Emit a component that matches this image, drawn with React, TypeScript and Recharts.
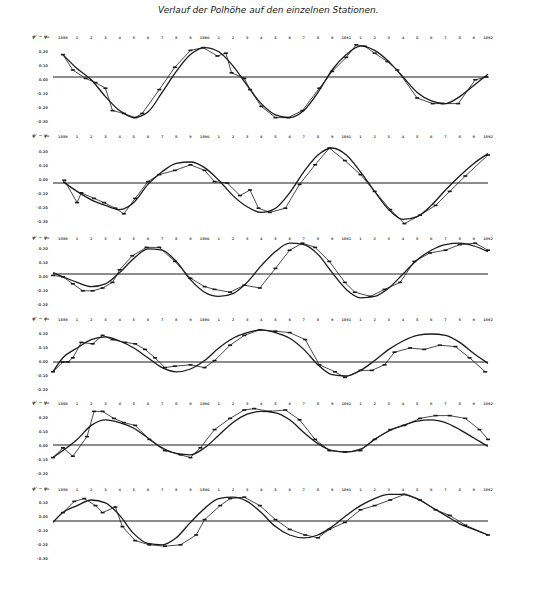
import React from "react";
import { LineChart, Line, XAxis, YAxis, ReferenceLine } from "recharts";

const TITLE = "Verlauf der Polhöhe auf den einzelnen Stationen.";
const AXIS_NAME = "φ' − φ₀";

// epochs (years) along the top of each panel, one tick per tenth of a year
const YEAR_TICKS = [
  1889.0, 1889.1, 1889.2, 1889.3, 1889.4, 1889.5, 1889.6, 1889.7, 1889.8, 1889.9,
  1890.0, 1890.1, 1890.2, 1890.3, 1890.4, 1890.5, 1890.6, 1890.7, 1890.8, 1890.9,
  1891.0, 1891.1, 1891.2, 1891.3, 1891.4, 1891.5, 1891.6, 1891.7, 1891.8, 1891.9,
  1892.0,
];

// epochs for the smooth (computed) curves
const SMOOTH_EPOCHS = [
  1888.93, 1889.0, 1889.1, 1889.2, 1889.3, 1889.4, 1889.5, 1889.6, 1889.7, 1889.8,
  1889.9, 1890.0, 1890.1, 1890.2, 1890.3, 1890.4, 1890.5, 1890.6, 1890.7, 1890.8,
  1890.9, 1891.0, 1891.1, 1891.2, 1891.3, 1891.4, 1891.5, 1891.6, 1891.7, 1891.8,
  1891.9, 1892.0,
];

// smooth curves, seconds of arc relative to the mean line
const SMOOTH_1 = [null, 0.16, 0.06, -0.02, -0.14, -0.24, -0.29, -0.25, -0.11, 0.04, 0.16, 0.21, 0.18, 0.08, -0.06, -0.19, -0.27, -0.29, -0.24, -0.11, 0.05, 0.16, 0.22, 0.19, 0.11, 0.0, -0.11, -0.17, -0.19, -0.14, -0.06, 0.02];
const SMOOTH_2 = [null, 0.01, -0.06, -0.12, -0.16, -0.19, -0.14, -0.01, 0.08, 0.14, 0.15, 0.11, 0.02, -0.09, -0.17, -0.21, -0.18, -0.07, 0.08, 0.2, 0.25, 0.2, 0.08, -0.06, -0.19, -0.26, -0.24, -0.16, -0.05, 0.05, 0.14, 0.21];
const SMOOTH_3 = [0.01, -0.02, -0.06, -0.09, -0.07, 0.01, 0.11, 0.18, 0.17, 0.09, -0.04, -0.13, -0.16, -0.14, -0.06, 0.06, 0.16, 0.22, 0.21, 0.14, 0.01, -0.11, -0.17, -0.16, -0.1, 0.0, 0.1, 0.17, 0.21, 0.22, 0.2, 0.16];
const SMOOTH_4 = [-0.07, 0.03, 0.1, 0.16, 0.18, 0.15, 0.1, 0.03, -0.04, -0.07, -0.05, 0.01, 0.1, 0.17, 0.21, 0.23, 0.21, 0.17, 0.09, -0.02, -0.09, -0.1, -0.06, 0.01, 0.09, 0.15, 0.19, 0.2, 0.19, 0.14, 0.06, -0.01];
const SMOOTH_5 = [-0.09, -0.04, 0.04, 0.14, 0.18, 0.16, 0.12, 0.05, -0.02, -0.06, -0.07, -0.02, 0.07, 0.16, 0.22, 0.24, 0.23, 0.18, 0.09, 0.01, -0.04, -0.05, -0.03, 0.04, 0.1, 0.14, 0.17, 0.18, 0.16, 0.11, 0.05, -0.01];
const SMOOTH_6 = [-0.01, 0.06, 0.11, 0.15, 0.13, 0.04, -0.09, -0.16, -0.17, -0.12, -0.01, 0.09, 0.16, 0.17, 0.14, 0.06, -0.04, -0.1, -0.12, -0.1, -0.04, 0.04, 0.11, 0.16, 0.19, 0.19, 0.16, 0.1, 0.04, -0.02, -0.06, -0.1];

// observed values [epoch, seconds of arc]
const OBS_1 = [
  [1889.0, 0.16], [1889.07, 0.05], [1889.16, -0.01], [1889.23, -0.04], [1889.3, -0.08],
  [1889.35, -0.24], [1889.43, -0.26], [1889.51, -0.29], [1889.56, -0.26], [1889.68, -0.09],
  [1889.79, 0.07], [1889.9, 0.19], [1889.99, 0.21], [1890.09, 0.15], [1890.15, 0.17],
  [1890.19, 0.03], [1890.28, -0.01], [1890.32, -0.09], [1890.4, -0.21], [1890.5, -0.29],
  [1890.59, -0.29], [1890.69, -0.24], [1890.81, -0.08], [1890.9, 0.04], [1891.0, 0.14],
  [1891.07, 0.23], [1891.13, 0.22], [1891.2, 0.17], [1891.29, 0.11], [1891.36, 0.05],
  [1891.5, -0.15], [1891.61, -0.19], [1891.68, -0.19], [1891.79, -0.19], [1891.91, -0.02],
  [1891.99, 0.0],
];
const OBS_2 = [
  [1889.01, 0.02], [1889.1, -0.14], [1889.13, -0.07], [1889.22, -0.11], [1889.29, -0.14],
  [1889.37, -0.18], [1889.43, -0.22], [1889.51, -0.11], [1889.6, 0.01], [1889.68, 0.06],
  [1889.79, 0.09], [1889.9, 0.13], [1890.0, 0.09], [1890.07, 0.01], [1890.16, 0.0],
  [1890.25, -0.09], [1890.32, -0.05], [1890.38, -0.18], [1890.46, -0.21], [1890.57, -0.18],
  [1890.67, -0.01], [1890.78, 0.13], [1890.88, 0.25], [1890.99, 0.16], [1891.1, 0.06],
  [1891.2, -0.06], [1891.31, -0.19], [1891.41, -0.29], [1891.52, -0.23], [1891.63, -0.16],
  [1891.73, -0.06], [1891.84, 0.05], [1892.0, 0.2],
];
const OBS_3 = [
  [1888.93, -0.01], [1889.0, -0.02], [1889.07, -0.07], [1889.14, -0.12], [1889.21, -0.12],
  [1889.28, -0.1], [1889.35, -0.06], [1889.4, 0.03], [1889.49, 0.13], [1889.59, 0.19],
  [1889.68, 0.19], [1889.79, 0.09], [1889.9, -0.03], [1890.0, -0.09], [1890.07, -0.11],
  [1890.18, -0.13], [1890.28, -0.08], [1890.39, -0.1], [1890.5, 0.04], [1890.6, 0.17],
  [1890.69, 0.22], [1890.78, 0.19], [1890.88, 0.09], [1890.99, -0.06], [1891.06, -0.13],
  [1891.17, -0.16], [1891.27, -0.11], [1891.38, -0.06], [1891.48, 0.09], [1891.59, 0.15],
  [1891.7, 0.17], [1891.8, 0.21], [1891.91, 0.22], [1892.0, 0.17],
];
const OBS_4 = [
  [1888.93, -0.07], [1889.0, 0.0], [1889.035, 0.0], [1889.07, 0.03], [1889.13, 0.14],
  [1889.21, 0.13], [1889.28, 0.19], [1889.35, 0.16], [1889.44, 0.14], [1889.51, 0.13],
  [1889.58, 0.09], [1889.65, 0.03], [1889.72, -0.04], [1889.79, -0.03], [1889.9, -0.02],
  [1890.0, -0.04], [1890.07, 0.01], [1890.18, 0.12], [1890.28, 0.19], [1890.39, 0.23],
  [1890.5, 0.22], [1890.6, 0.21], [1890.71, 0.16], [1890.81, -0.02], [1890.92, -0.07],
  [1890.99, -0.11], [1891.1, -0.06], [1891.18, -0.06], [1891.27, -0.02], [1891.34, 0.07],
  [1891.45, 0.1], [1891.55, 0.09], [1891.66, 0.12], [1891.77, 0.11], [1891.87, 0.03],
  [1891.98, -0.07],
];
const OBS_5 = [
  [1888.93, -0.09], [1889.0, -0.02], [1889.07, -0.08], [1889.17, 0.06], [1889.22, 0.24],
  [1889.28, 0.24], [1889.36, 0.19], [1889.43, 0.16], [1889.51, 0.14], [1889.61, 0.04],
  [1889.72, -0.04], [1889.83, -0.07], [1889.9, -0.09], [1889.97, -0.02], [1890.07, 0.11],
  [1890.18, 0.19], [1890.28, 0.25], [1890.35, 0.26], [1890.46, 0.24], [1890.57, 0.25],
  [1890.67, 0.18], [1890.78, 0.04], [1890.88, -0.04], [1890.99, -0.05], [1891.1, -0.04],
  [1891.2, 0.04], [1891.31, 0.11], [1891.41, 0.14], [1891.52, 0.19], [1891.63, 0.21],
  [1891.73, 0.21], [1891.84, 0.19], [1891.94, 0.11], [1892.0, 0.04],
];
const OBS_6 = [
  [1889.0, 0.06], [1889.08, 0.14], [1889.15, 0.16], [1889.23, 0.11], [1889.28, 0.06],
  [1889.37, 0.1], [1889.42, -0.04], [1889.51, -0.14], [1889.61, -0.17], [1889.72, -0.18],
  [1889.83, -0.17], [1889.94, -0.1], [1890.0, 0.01], [1890.11, 0.11], [1890.18, 0.16],
  [1890.28, 0.17], [1890.39, 0.11], [1890.5, 0.01], [1890.6, -0.06], [1890.71, -0.1],
  [1890.8, -0.12], [1890.88, -0.06], [1890.99, -0.01], [1891.1, 0.08], [1891.2, 0.11],
  [1891.31, 0.15], [1891.41, 0.19], [1891.52, 0.15], [1891.63, 0.08], [1891.73, 0.04],
  [1891.84, -0.03], [1892.0, -0.1],
];

// scale labels on the left of each panel
const TICK_LABELS_1 = ["0.20", "0.10", "0.00", "-0.10", "-0.20", "-0.30"];
const TICK_LABELS_2 = ["0.20", "0.10", "0.00", "-0.10", "-0.20", "-0.30"];
const TICK_LABELS_3 = ["0.20", "0.10", "0.00", "-0.10", "-0.20"];
const TICK_LABELS_4 = ["0.20", "0.10", "0.00", "-0.10", "-0.20"];
const TICK_LABELS_5 = ["0.20", "0.10", "0.00", "-0.10", "-0.20"];
const TICK_LABELS_6 = ["0.10", "0.00", "-0.10", "-0.20", "-0.30"];

// page layout of the six panels (pixels)
const PX_PER_SEC = 140;
const PANELS = [
  { smooth: SMOOTH_1, obs: OBS_1, labels: TICK_LABELS_1, dotY: 36, refY: 77, firstTickY: 52, bottom: 127 },
  { smooth: SMOOTH_2, obs: OBS_2, labels: TICK_LABELS_2, dotY: 135, refY: 183, firstTickY: 152, bottom: 228 },
  { smooth: SMOOTH_3, obs: OBS_3, labels: TICK_LABELS_3, dotY: 237, refY: 274, firstTickY: 249, bottom: 312 },
  { smooth: SMOOTH_4, obs: OBS_4, labels: TICK_LABELS_4, dotY: 318, refY: 362, firstTickY: 334, bottom: 397 },
  { smooth: SMOOTH_5, obs: OBS_5, labels: TICK_LABELS_5, dotY: 402, refY: 445, firstTickY: 418, bottom: 480 },
  { smooth: SMOOTH_6, obs: OBS_6, labels: TICK_LABELS_6, dotY: 488, refY: 521, firstTickY: 503, bottom: 566 },
];

const INK = "#1a1a1a";
const FONT = "'DejaVu Sans', sans-serif";

const ObsMark = (props: any) => {
  const { cx, cy, index } = props;
  if (cx == null || cy == null) return null;
  return <rect key={`m-${index}`} x={cx - 2} y={cy - 0.8} width={4} height={1.6} fill={INK} />;
};

function Panel({ p }: { p: (typeof PANELS)[number] }) {
  const top = p.dotY - 6;
  const plotTop = p.dotY + 4;
  const height = p.bottom - top;
  const vMax = (p.refY - plotTop) / PX_PER_SEC;
  const vMin = (p.refY - p.bottom) / PX_PER_SEC;
  const ticks = p.labels.map((_, i) => (p.refY - (p.firstTickY + 14 * i)) / PX_PER_SEC);

  const smoothData = SMOOTH_EPOCHS.map((t, i) => ({ t, v: p.smooth[i] }));
  const obsData = p.obs.map(([t, v]) => ({ t, v }));

  return (
    <div style={{ position: "absolute", left: 0, top }}>
      <LineChart width={540} height={height} margin={{ top: 0, right: 52, bottom: 0, left: 23 }}>
        <XAxis
          xAxisId={0}
          dataKey="t"
          type="number"
          orientation="top"
          domain={[1888.93, 1892.0]}
          ticks={YEAR_TICKS}
          interval={0}
          height={10}
          axisLine={false}
          tickLine={false}
          tickSize={0}
          tickMargin={1}
          tickFormatter={(v: number) => {
            const tenth = Math.round((v % 1) * 10);
            return tenth === 0 ? String(Math.round(v)) : String(tenth);
          }}
          tick={{ fontSize: 3.5, fill: "#555", fontFamily: FONT, fontWeight: 700 }}
        />
        <YAxis
          type="number"
          domain={[vMin, vMax]}
          allowDataOverflow
          ticks={ticks}
          interval={0}
          width={30}
          axisLine={false}
          tickLine={false}
          tickSize={0}
          tickMargin={5}
          tickFormatter={(_v: number, i: number) => p.labels[i] ?? ""}
          tick={{ fontSize: 3.8, fill: "#555", fontFamily: FONT, fontWeight: 700 }}
        />
        <ReferenceLine y={0} stroke={INK} strokeWidth={1} />
        <Line
          data={smoothData}
          dataKey="v"
          type="monotone"
          stroke={INK}
          strokeWidth={1.3}
          dot={false}
          connectNulls
          isAnimationActive={false}
        />
        <Line
          data={obsData}
          dataKey="v"
          type="linear"
          stroke={INK}
          strokeWidth={0.8}
          dot={ObsMark}
          isAnimationActive={false}
        />
      </LineChart>
      <div
        style={{
          position: "absolute",
          left: 32,
          top: 4,
          fontSize: 4.5,
          fontStyle: "italic",
          fontWeight: 700,
          color: "#444",
          fontFamily: FONT,
          whiteSpace: "nowrap",
        }}
      >
        {AXIS_NAME}
      </div>
    </div>
  );
}

export default function App() {
  return (
    <div style={{ position: "absolute", left: 0, top: 0, width: 540, height: 607, background: "#fff" }}>
      <div
        style={{
          position: "absolute",
          left: 158,
          top: 5,
          fontSize: 9,
          fontStyle: "italic",
          fontFamily: FONT,
          color: INK,
          whiteSpace: "nowrap",
        }}
      >
        {TITLE}
      </div>
      {PANELS.map((p, i) => (
        <Panel key={i} p={p} />
      ))}
    </div>
  );
}
